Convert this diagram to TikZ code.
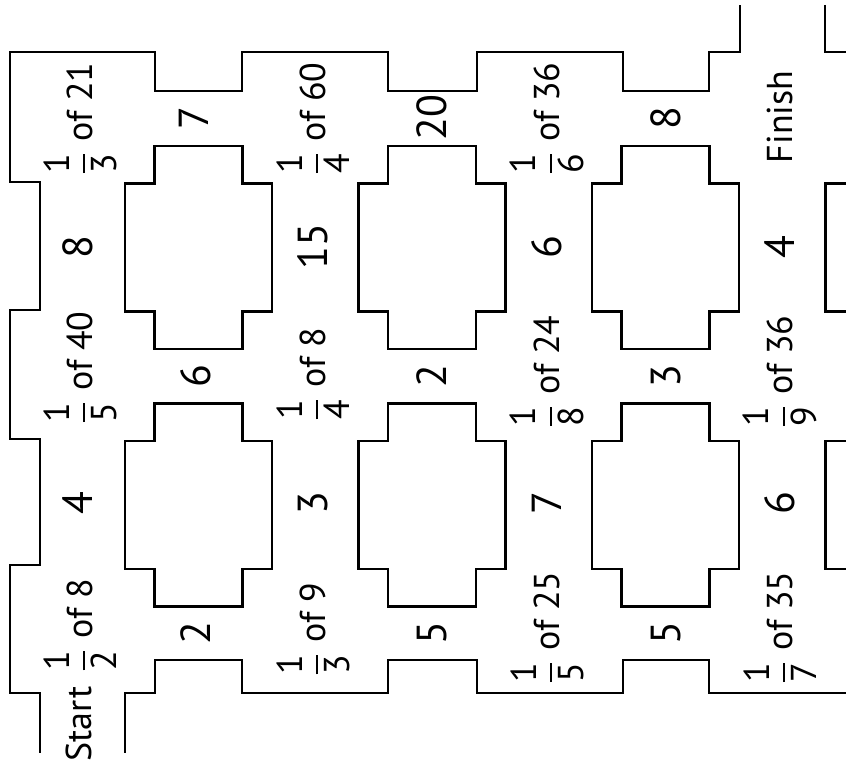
\documentclass[tikz,border=0pt]{standalone}
\usepackage{fontspec}
\setmainfont{PT Sans}
\usepackage{amsmath}
\usetikzlibrary{positioning}

\tikzset{
  mur/.style={line width=1.4pt, line join=miter},
  etiq/.style={rotate=90, inner sep=0pt, font=\fontsize{18}{22}\selectfont},
  nombre/.style={etiq, font=\fontsize{21}{25}\selectfont},
}
\newcommand{\fracde}[3]{$\genfrac{}{}{1pt}{0}{\text{#1}}{\text{#2}}$ of #3}

\begin{document}
\begin{tikzpicture}[x=0.0176cm, y=-0.0176cm]
          \useasboundingbox (0,0) rectangle (846,764);
          \clip (0,0) rectangle (846,764);
          % outer walls
          \draw[mur] (40,753) -- (40,693) -- (10,693) -- (10,565) -- (40,565) -- (40,439) -- (10,439) -- (10,310) -- (40,310) -- (40,182) -- (10,182) -- (10,52)
                -- (155,52) -- (155,91) -- (242,91) -- (242,52) -- (388,52) -- (388,91) -- (477,91) -- (477,52) -- (623,52) -- (623,91) -- (709,91) -- (709,52) -- (740,52) -- (740,5);
          \draw[mur] (825,5) -- (825,52) -- (870,52);
          \draw[mur] (125,753) -- (125,693) -- (155,693) -- (155,660) -- (242,660) -- (242,693) -- (388,693) -- (388,660) -- (477,660) -- (477,693)
                -- (623,693) -- (623,660) -- (709,660) -- (709,693) -- (870,693);
          % blocks
          \foreach \i in {0,1}
            \foreach \j in {0,1,2,3}
              \draw[mur, shift={({198.5+233.5*\j},{247.5+257.5*\i})}] (-44,-101.5) -- (44,-101.5) -- (44,-64) -- (73.5,-64) -- (73.5,64) -- (44,64)
                    -- (44,101.5) -- (-44,101.5) -- (-44,64) -- (-73.5,64) -- (-73.5,-64) -- (-44,-64) -- cycle;
          % junctions
          \node[etiq] (depart) at (79,724) {Start};
          \node[etiq] (arrivee) at (780,117) {Finish};
          \node[etiq] (frac1) at (80,119) {\fracde{1}{3}{21}};
          \node[etiq] (frac2) at (313,119) {\fracde{1}{4}{60}};
          \node[etiq] (frac3) at (547,119) {\fracde{1}{6}{36}};
          \node[etiq] (frac4) at (80,368) {\fracde{1}{5}{40}};
          \node[etiq] (frac5) at (313,375) {\fracde{1}{4}{8}};
          \node[etiq] (frac6) at (547,372) {\fracde{1}{8}{24}};
          \node[etiq] (frac7) at (780,372) {\fracde{1}{9}{36}};
          \node[etiq] (frac8) at (80,626) {\fracde{1}{2}{8}};
          \node[etiq] (frac9) at (313,630) {\fracde{1}{3}{9}};
          \node[etiq] (frac10) at (547,628) {\fracde{1}{5}{25}};
          \node[etiq] (frac11) at (780,628) {\fracde{1}{7}{35}};
          % numbers across
          \node[nombre] (nb1) at (194,118) {7};
          \node[nombre] (nb2) at (432,118) {20};
          \node[nombre] (nb3) at (666,118) {8};
          \node[nombre] (nb4) at (196,376) {6};
          \node[nombre] (nb5) at (432,376) {2};
          \node[nombre] (nb6) at (666,376) {3};
          \node[nombre] (nb7) at (196,633) {2};
          \node[nombre] (nb8) at (432,633) {5};
          \node[nombre] (nb9) at (666,633) {5};
          % numbers along
          \node[nombre] (nb10) at (78,247) {8};
          \node[nombre] (nb11) at (313,247) {15};
          \node[nombre] (nb12) at (547,247) {6};
          \node[nombre] (nb13) at (780,247) {4};
          \node[nombre] (nb14) at (78,503) {4};
          \node[nombre] (nb15) at (313,503) {3};
          \node[nombre] (nb16) at (547,503) {7};
          \node[nombre] (nb17) at (780,503) {6};
        \end{tikzpicture}
\end{document}
